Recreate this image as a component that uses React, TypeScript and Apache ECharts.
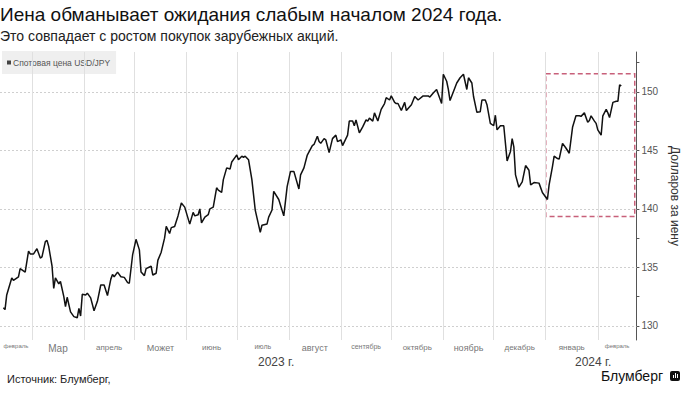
import React, { useEffect, useRef } from "react";
import * as echarts from "echarts";

const titleText = "Иена обманывает ожидания слабым началом 2024 года.";
const subtitleText = "Это совпадает с ростом покупок зарубежных акций.";
const seriesName = "Спотовая цена USD/JPY";
const axisName = "Долларов за иену";
const sourceText = "Источник: Блумберг,";
const brandText = "Блумберг";

const dates = [
  "2023-02-12","2023-02-13","2023-02-14","2023-02-17","2023-02-18","2023-02-21","2023-02-22","2023-02-25","2023-02-27","2023-02-28",
  "2023-03-02","2023-03-04","2023-03-06","2023-03-07","2023-03-09","2023-03-10","2023-03-11","2023-03-13","2023-03-14","2023-03-15",
  "2023-03-17","2023-03-18","2023-03-20","2023-03-21","2023-03-22","2023-03-24","2023-03-26","2023-03-28","2023-03-29","2023-03-30",
  "2023-03-31","2023-04-02","2023-04-03","2023-04-05","2023-04-07","2023-04-09","2023-04-11","2023-04-13","2023-04-15","2023-04-17",
  "2023-04-18","2023-04-19","2023-04-21","2023-04-23","2023-04-25","2023-04-27","2023-04-28","2023-04-30","2023-05-02","2023-05-04",
  "2023-05-05","2023-05-07","2023-05-08","2023-05-11","2023-05-12","2023-05-14","2023-05-15","2023-05-17","2023-05-19","2023-05-20",
  "2023-05-22","2023-05-23","2023-05-25","2023-05-27","2023-05-29","2023-05-31","2023-06-03","2023-06-05","2023-06-06","2023-06-08",
  "2023-06-09","2023-06-10","2023-06-12","2023-06-14","2023-06-15","2023-06-17","2023-06-19","2023-06-20","2023-06-22","2023-06-23",
  "2023-06-25","2023-06-27","2023-06-28","2023-06-30","2023-07-01","2023-07-02","2023-07-04","2023-07-05","2023-07-06","2023-07-08",
  "2023-07-10","2023-07-12","2023-07-15","2023-07-16","2023-07-19","2023-07-20","2023-07-22","2023-07-23","2023-07-26","2023-07-29",
  "2023-07-31","2023-08-02","2023-08-04","2023-08-07","2023-08-08","2023-08-10","2023-08-12","2023-08-15","2023-08-16","2023-08-18",
  "2023-08-19","2023-08-20","2023-08-22","2023-08-23","2023-08-25","2023-08-27","2023-08-29","2023-08-30","2023-09-01","2023-09-02",
  "2023-09-04","2023-09-05","2023-09-06","2023-09-08","2023-09-09","2023-09-10","2023-09-12","2023-09-14","2023-09-16","2023-09-17",
  "2023-09-18","2023-09-20","2023-09-21","2023-09-23","2023-09-25","2023-09-27","2023-09-28","2023-09-30","2023-10-01","2023-10-03",
  "2023-10-04","2023-10-05","2023-10-07","2023-10-09","2023-10-10","2023-10-13","2023-10-15","2023-10-17","2023-10-20","2023-10-23",
  "2023-10-24","2023-10-26","2023-10-28","2023-10-31","2023-11-01","2023-11-03","2023-11-04","2023-11-05","2023-11-07","2023-11-09",
  "2023-11-11","2023-11-13","2023-11-15","2023-11-16","2023-11-18","2023-11-19","2023-11-21","2023-11-23","2023-11-24","2023-11-26",
  "2023-11-27","2023-11-29","2023-12-01","2023-12-02","2023-12-03","2023-12-05","2023-12-07","2023-12-09","2023-12-11","2023-12-12",
  "2023-12-13","2023-12-14","2023-12-16","2023-12-18","2023-12-20","2023-12-22","2023-12-23","2023-12-25","2023-12-28","2023-12-30",
  "2024-01-02","2024-01-03","2024-01-05","2024-01-06","2024-01-08","2024-01-09","2024-01-11","2024-01-13","2024-01-15","2024-01-17",
  "2024-01-19","2024-01-21","2024-01-22","2024-01-24","2024-01-26","2024-01-27","2024-01-28","2024-01-30","2024-01-31","2024-02-01",
  "2024-02-03","2024-02-04","2024-02-06","2024-02-07","2024-02-08","2024-02-10","2024-02-12","2024-02-13","2024-02-14","2024-02-15",
];

const usdJpy = [
  131.56,131.4,132.65,134.1,133.9,134.2,134.9,134.6,136.4,136.15,
  136.15,136.6,135.8,135.9,137.2,137.3,136.8,135.1,133.2,134.1,
  133.6,133.8,132.5,131.65,132.45,131.2,130.8,130.7,131.5,130.85,
  132.7,132.65,132.8,132.4,131.3,132.1,133.5,133.5,132.6,134.0,
  134.4,134.2,134.6,134.2,134.15,133.7,133.65,136.1,137.4,136.5,
  134.6,134.3,134.9,135.1,134.35,134.5,135.6,136.3,137.5,138.5,
  137.9,138.4,138.5,139.4,140.5,140.15,138.7,139.7,139.4,139.5,
  140.0,138.8,139.3,139.5,140.0,140.15,141.8,141.6,141.4,142.5,
  143.5,143.4,144.0,144.4,144.6,144.2,144.5,144.4,144.5,144.2,
  142.5,139.9,138.0,138.6,138.7,139.3,139.9,141.5,140.8,139.4,
  141.9,143.2,143.2,141.7,142.9,143.5,144.6,145.4,145.5,146.2,
  145.75,145.6,146.0,145.9,144.8,146.0,146.3,145.75,145.9,145.4,
  146.0,146.3,147.5,147.5,147.1,147.6,146.5,147.0,147.6,147.5,
  147.75,147.5,148.2,147.5,148.5,149.0,149.5,149.3,149.65,149.1,
  149.0,149.0,148.4,149.1,148.4,148.9,149.6,149.3,149.65,149.65,
  149.55,149.9,150.2,149.0,151.5,150.9,150.2,149.25,150.0,150.75,
  151.2,151.5,150.2,151.2,150.75,149.6,148.25,148.3,149.3,149.3,
  148.9,147.3,147.1,148.0,146.75,147.1,147.1,144.1,144.9,146.0,
  145.3,142.9,141.85,142.3,143.7,143.3,142.05,142.25,142.2,141.4,
  140.8,142.05,143.6,144.5,144.3,144.25,145.6,145.2,144.75,147.0,
  147.95,147.95,147.9,148.2,147.4,147.55,147.95,147.5,147.3,146.75,
  146.3,147.95,148.5,148.2,147.8,149.1,149.2,149.2,150.6,150.5,
];

const axisStart = "2023-02-10";
const axisEnd = "2024-02-24";
const monthStarts = [
  "2023-03-01","2023-04-01","2023-05-01","2023-06-01","2023-07-01","2023-08-01",
  "2023-09-01","2023-10-01","2023-11-01","2023-12-01","2024-01-01","2024-02-01",
];
const monthLabels = [
  "февраль","Мар","апрель","Может","июнь","июль","август",
  "сентябрь","октябрь","ноябрь","декабрь","январь","февраль",
];
const monthLabelSizes = [6, 10, 8, 9, 8, 7, 9, 7, 8, 9, 8, 8, 6];
const yLabelValues = [130, 135, 140, 145, 150];
const yTickValues = [130, 132.5, 135, 137.5, 140, 142.5, 145, 147.5, 150, 152.5];
const yearLabels = ["2023 г.", "2024 г."];

const boxStart = "2024-01-01";
const boxEnd = "2024-02-23";
const boxTop = 151.55;
const boxBottom = 139.35;

const FONT = "'Liberation Sans', Arial, Helvetica, sans-serif";

export default function App() {
  const ref = useRef<HTMLDivElement>(null);

  useEffect(() => {
    if (!ref.current) return;
    const chart = echarts.init(ref.current, undefined, { renderer: "svg" });

    const bounds = [axisStart, ...monthStarts, axisEnd];
    const monthAreas: any[] = monthLabels.map((lab, i) => [
      {
        xAxis: bounds[i],
        itemStyle: { color: "rgba(0,0,0,0)", borderWidth: 0 },
        label: {
          show: true,
          position: "bottom",
          distance: 3,
          formatter: lab,
          fontSize: monthLabelSizes[i],
          color: "#777",
          fontFamily: FONT,
        },
      },
      { xAxis: bounds[i + 1] },
    ]);

    const boxArea = [
      {
        xAxis: boxStart,
        yAxis: boxTop,
        itemStyle: {
          color: "rgba(0,0,0,0)",
          borderColor: "#c8607a",
          borderWidth: 1.5,
          borderType: [5, 3],
        },
        label: { show: false },
      },
      { xAxis: boxEnd, yAxis: boxBottom },
    ];

    const option: any = {
      animation: false,
      backgroundColor: "#ffffff",
      textStyle: { fontFamily: FONT },
      title: [
        {
          text: titleText,
          left: 0,
          top: 5,
          padding: 0,
          textStyle: { fontSize: 19, fontWeight: "normal", color: "#111", fontFamily: FONT },
        },
        {
          text: subtitleText,
          left: 0,
          top: 29,
          padding: 0,
          textStyle: { fontSize: 14, fontWeight: "normal", color: "#222", fontFamily: FONT },
        },
      ],
      legend: {
        left: 2,
        top: 51,
        padding: [7, 6, 7, 5],
        backgroundColor: "#efefef",
        icon: "rect",
        itemWidth: 4,
        itemHeight: 4,
        itemGap: 2,
        textStyle: { fontSize: 8.5, color: "#555", fontFamily: FONT, padding: [0, 0, 0, -3] },
        data: [{ name: seriesName, itemStyle: { color: "#444" } }],
      },
      grid: { left: 0, right: 52, top: 52, bottom: 55 },
      xAxis: {
        type: "time",
        min: axisStart,
        max: axisEnd,
        axisLine: { show: false },
        axisTick: { show: false },
        axisLabel: { show: false },
        splitLine: { show: false },
      },
      yAxis: {
        type: "value",
        position: "right",
        min: 128.8,
        max: 153.4,
        name: axisName,
        nameLocation: "middle",
        nameRotate: -90,
        nameGap: 28,
        nameTextStyle: { fontSize: 12, color: "#333", fontFamily: FONT },
        axisLine: { show: true, lineStyle: { color: "#555", width: 1 } },
        axisTick: {
          show: true,
          customValues: yTickValues,
          length: 3,
          lineStyle: { color: "#555" },
        },
        axisLabel: {
          customValues: yLabelValues,
          fontSize: 10,
          color: "#555",
          margin: 5,
          fontFamily: FONT,
        },
        splitLine: { show: false },
      },
      series: [
        {
          name: seriesName,
          type: "line",
          data: dates.map((d, i) => [d, usdJpy[i]]),
          showSymbol: false,
          symbol: "none",
          clip: false,
          lineStyle: { color: "#111", width: 1.5 },
          itemStyle: { color: "#111" },
          z: 5,
          markLine: {
            silent: true,
            symbol: ["none", "none"],
            label: { show: false },
            data: [
              ...yLabelValues.map((v) => ({
                yAxis: v,
                lineStyle: { color: "#cfcfcf", width: 1, type: [2, 2] },
              })),
              ...monthStarts.map((d) => ({
                xAxis: d,
                lineStyle: { color: "#e0e0e0", width: 1, type: "solid" },
              })),
            ],
          },
          markArea: {
            silent: true,
            data: [...monthAreas, boxArea],
          },
        },
      ],
      graphic: [
        {
          type: "text",
          left: 258,
          top: 356,
          style: { text: yearLabels[0], fontSize: 12, fill: "#444", fontFamily: FONT },
        },
        {
          type: "text",
          left: 575,
          top: 356,
          style: { text: yearLabels[1], fontSize: 12, fill: "#444", fontFamily: FONT },
        },
        {
          type: "text",
          left: 7,
          top: 373,
          style: { text: sourceText, fontSize: 11, fill: "#222", fontFamily: FONT },
        },
        {
          type: "text",
          left: 601,
          top: 369,
          style: { text: brandText, fontSize: 14, fill: "#111", fontFamily: FONT },
        },
        {
          type: "group",
          left: 670,
          top: 371,
          children: [
            { type: "rect", shape: { x: 0, y: 0, width: 10, height: 10, r: 2 }, style: { fill: "#111" } },
            { type: "rect", shape: { x: 3, y: 4, width: 1, height: 3 }, style: { fill: "#fff" } },
            { type: "rect", shape: { x: 5, y: 2, width: 1, height: 5 }, style: { fill: "#fff" } },
            { type: "rect", shape: { x: 7, y: 3, width: 1, height: 4 }, style: { fill: "#fff" } },
          ],
        },
      ],
    };

    chart.setOption(option);
    return () => chart.dispose();
  }, []);

  return <div ref={ref} style={{ width: 689, height: 395, position: "absolute", left: 0, top: 0 }} />;
}
